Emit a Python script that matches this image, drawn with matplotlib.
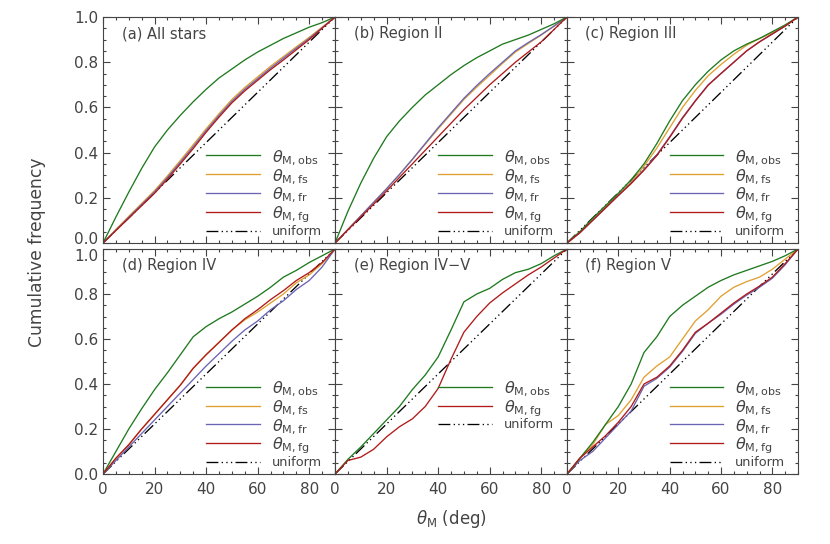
import numpy as np
import matplotlib
matplotlib.use('Agg')
from matplotlib import pyplot as plt
from matplotlib.ticker import MultipleLocator
import matplotlib.transforms as mtransforms

theta = [0, 5, 10, 15, 20, 25, 30, 35, 40, 45, 50, 55, 60, 65, 70, 75, 80, 85, 90]

# (a) All stars
a_obs = [0, 0.115, 0.225, 0.33, 0.425, 0.50, 0.565, 0.625, 0.68, 0.73, 0.77, 0.81, 0.845, 0.875, 0.905, 0.93, 0.955, 0.975, 1.0]
a_fs  = [0, 0.06, 0.118, 0.175, 0.232, 0.297, 0.365, 0.435, 0.505, 0.572, 0.635, 0.688, 0.735, 0.782, 0.825, 0.868, 0.91, 0.955, 1.0]
a_fr  = [0, 0.057, 0.114, 0.17, 0.226, 0.29, 0.357, 0.426, 0.497, 0.564, 0.627, 0.68, 0.727, 0.774, 0.818, 0.862, 0.905, 0.952, 1.0]
a_fg  = [0, 0.055, 0.11, 0.165, 0.22, 0.283, 0.35, 0.418, 0.49, 0.557, 0.62, 0.673, 0.72, 0.767, 0.81, 0.855, 0.90, 0.95, 1.0]

# (b) Region II
b_obs = [0, 0.14, 0.265, 0.375, 0.47, 0.54, 0.60, 0.655, 0.70, 0.745, 0.785, 0.82, 0.85, 0.88, 0.90, 0.92, 0.945, 0.97, 1.0]
b_fs  = [0, 0.06, 0.12, 0.18, 0.24, 0.303, 0.37, 0.437, 0.505, 0.57, 0.635, 0.69, 0.742, 0.795, 0.845, 0.883, 0.92, 0.96, 1.0]
b_fr  = [0, 0.06, 0.12, 0.18, 0.24, 0.303, 0.37, 0.44, 0.51, 0.575, 0.64, 0.697, 0.75, 0.80, 0.85, 0.887, 0.922, 0.96, 1.0]
b_fg  = [0, 0.058, 0.115, 0.172, 0.23, 0.29, 0.35, 0.41, 0.47, 0.53, 0.59, 0.645, 0.70, 0.75, 0.80, 0.845, 0.89, 0.945, 1.0]

# (c) Region III
c_obs = [0, 0.05, 0.11, 0.165, 0.22, 0.28, 0.35, 0.44, 0.54, 0.63, 0.70, 0.76, 0.81, 0.85, 0.88, 0.905, 0.935, 0.965, 1.0]
c_fs  = [0, 0.048, 0.105, 0.16, 0.215, 0.27, 0.34, 0.42, 0.51, 0.60, 0.675, 0.74, 0.79, 0.835, 0.875, 0.905, 0.93, 0.96, 1.0]
c_fr  = [0, 0.045, 0.10, 0.155, 0.21, 0.265, 0.325, 0.39, 0.47, 0.555, 0.63, 0.70, 0.75, 0.80, 0.85, 0.89, 0.925, 0.96, 1.0]
c_fg  = [0, 0.045, 0.10, 0.155, 0.21, 0.263, 0.322, 0.387, 0.467, 0.552, 0.628, 0.698, 0.75, 0.80, 0.85, 0.89, 0.925, 0.96, 1.0]

# (d) Region IV
d_obs = [0, 0.10, 0.20, 0.29, 0.375, 0.45, 0.53, 0.61, 0.655, 0.69, 0.72, 0.755, 0.79, 0.83, 0.875, 0.905, 0.94, 0.97, 1.0]
d_fs  = [0, 0.07, 0.13, 0.20, 0.265, 0.33, 0.395, 0.47, 0.53, 0.585, 0.64, 0.685, 0.72, 0.76, 0.80, 0.85, 0.885, 0.935, 1.0]
d_fr  = [0, 0.06, 0.12, 0.18, 0.24, 0.30, 0.36, 0.42, 0.48, 0.535, 0.59, 0.64, 0.68, 0.73, 0.77, 0.82, 0.86, 0.92, 1.0]
d_fg  = [0, 0.07, 0.13, 0.20, 0.265, 0.33, 0.395, 0.47, 0.53, 0.585, 0.64, 0.69, 0.73, 0.775, 0.815, 0.86, 0.895, 0.94, 1.0]

# (e) Region IV-V
e_obs = [0, 0.065, 0.12, 0.18, 0.24, 0.30, 0.375, 0.44, 0.52, 0.64, 0.765, 0.80, 0.825, 0.865, 0.895, 0.91, 0.935, 0.97, 1.0]
e_fg  = [0, 0.06, 0.075, 0.11, 0.165, 0.21, 0.245, 0.30, 0.38, 0.51, 0.63, 0.70, 0.76, 0.805, 0.845, 0.885, 0.92, 0.96, 1.0]

# (f) Region V
f_obs = [0, 0.07, 0.14, 0.22, 0.30, 0.40, 0.54, 0.61, 0.70, 0.75, 0.79, 0.83, 0.86, 0.885, 0.905, 0.925, 0.945, 0.97, 1.0]
f_fs  = [0, 0.07, 0.13, 0.22, 0.26, 0.33, 0.43, 0.48, 0.52, 0.60, 0.68, 0.73, 0.79, 0.83, 0.855, 0.875, 0.91, 0.955, 1.0]
f_fr  = [0, 0.06, 0.10, 0.16, 0.22, 0.28, 0.39, 0.425, 0.475, 0.545, 0.625, 0.67, 0.71, 0.755, 0.795, 0.83, 0.87, 0.93, 1.0]
f_fg  = [0, 0.07, 0.12, 0.17, 0.23, 0.30, 0.40, 0.43, 0.48, 0.55, 0.63, 0.67, 0.715, 0.76, 0.80, 0.835, 0.875, 0.935, 1.0]

titles = ['(a) All stars', '(b) Region II', '(c) Region III',
          '(d) Region IV', '(e) Region IV\u2212V', '(f) Region V']
panels = [
    {'obs': a_obs, 'fs': a_fs, 'fr': a_fr, 'fg': a_fg},
    {'obs': b_obs, 'fs': b_fs, 'fr': b_fr, 'fg': b_fg},
    {'obs': c_obs, 'fs': c_fs, 'fr': c_fr, 'fg': c_fg},
    {'obs': d_obs, 'fs': d_fs, 'fr': d_fr, 'fg': d_fg},
    {'obs': e_obs, 'fg': e_fg},
    {'obs': f_obs, 'fs': f_fs, 'fr': f_fr, 'fg': f_fg},
]
uniform_x = [0, 90]
uniform_y = [0, 1]

colors = {'obs': '#1f7a1f', 'fs': '#e0a030', 'fr': '#6a64b4', 'fg': '#b01a1a'}
labels = {'obs': r'$\theta_{\rm M,obs}$', 'fs': r'$\theta_{\rm M,fs}$',
          'fr': r'$\theta_{\rm M,fr}$', 'fg': r'$\theta_{\rm M,fg}$'}
uni_dash = (0, (9, 2.5, 1, 2.5, 1, 2.5, 1, 2.5))
tc = '#444444'
fs = 11
lw = 0.95

plt.rcParams['font.family'] = 'DejaVu Sans'
plt.rcParams['mathtext.fontset'] = 'dejavusans'

fig = plt.figure(figsize=(8.3, 5.44), dpi=100)

W, H = 830., 544.
xl = [103, 335, 567]
wd = [232, 232, 231]
yt = [17, 249]
ht = [226, 225]

axes = []
for i in range(6):
    r, c = i // 3, i % 3
    ax = fig.add_axes([xl[c]/W, 1 - (yt[r] + ht[r])/H, wd[c]/W, ht[r]/H])
    axes.append(ax)
    p = panels[i]
    ax.plot(uniform_x, uniform_y, color='k', lw=lw, linestyle=uni_dash)
    for key in ['fs', 'fr', 'obs', 'fg']:
        if key in p:
            ax.plot(theta, p[key], color=colors[key], lw=lw)
    ax.set_xlim(0, 90)
    ax.set_ylim(0, 1.0)
    ax.xaxis.set_major_locator(MultipleLocator(20))
    ax.xaxis.set_minor_locator(MultipleLocator(5))
    ax.yaxis.set_major_locator(MultipleLocator(0.2))
    ax.yaxis.set_minor_locator(MultipleLocator(0.05))
    ax.tick_params(which='both', direction='in', top=True, right=True,
                   colors=tc, labelcolor=tc, labelsize=fs, width=0.8)
    ax.tick_params(which='major', length=5)
    ax.tick_params(which='minor', length=2.5)
    ax.tick_params(axis='x', pad=6)
    for s in ax.spines.values():
        s.set_color(tc)
        s.set_linewidth(0.8)
    if r == 0:
        ax.set_xticklabels([])
    else:
        ax.set_xticks([0, 20, 40, 60, 80])
        ax.set_xticklabels(['0', '20', '40', '60', '80'])
    if c == 0:
        ax.set_yticks([0, 0.2, 0.4, 0.6, 0.8, 1.0])
        ax.set_yticklabels(['0.0', '0.2', '0.4', '0.6', '0.8', '1.0'])
    else:
        ax.set_yticklabels([])
    ax.text(0.08, 0.925, titles[i], transform=ax.transAxes, color=tc,
            fontsize=10.5, va='center', ha='left')

    # hand-drawn legend
    keys = [k for k in ['obs', 'fs', 'fr', 'fg'] if k in p]
    ys = [0.388, 0.304, 0.221, 0.137, 0.053]
    for j, k in enumerate(keys):
        ax.plot([0.444, 0.677], [ys[j], ys[j]], transform=ax.transAxes,
                color=colors[k], lw=lw)
        ax.text(0.728, ys[j] - 0.012, labels[k], transform=ax.transAxes,
                color=tc, fontsize=11.5, va='center', ha='left')
    j = len(keys)
    ax.plot([0.444, 0.677], [ys[j], ys[j]], transform=ax.transAxes,
            color='k', lw=lw, linestyle=uni_dash)
    ax.text(0.728, ys[j], 'uniform', transform=ax.transAxes,
            color=tc, fontsize=9.3, va='center', ha='left')

# nudge the 0.0 / 1.0 labels where the two rows meet
lab_top = axes[0].get_yticklabels()[0]
lab_top.set_transform(lab_top.get_transform() +
                      mtransforms.ScaledTranslation(0, 5/100., fig.dpi_scale_trans))
lab_bot = axes[3].get_yticklabels()[-1]
lab_bot.set_transform(lab_bot.get_transform() +
                      mtransforms.ScaledTranslation(0, -6/100., fig.dpi_scale_trans))

fig.text(37/W, 1 - 252/H, 'Cumulative frequency', rotation=90, color=tc,
         fontsize=12.3, ha='center', va='center')
fig.text(451/W, 1 - 519/H, r'$\theta_{\rm M}$ (deg)', color=tc,
         fontsize=12, ha='center', va='center')

fig.savefig('out.png', dpi=100)
